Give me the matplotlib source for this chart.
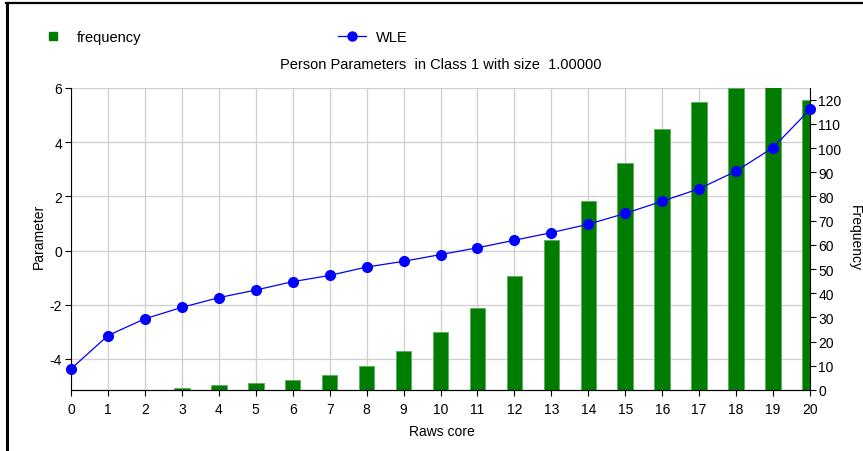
import numpy as np
import matplotlib
matplotlib.use('Agg')
import matplotlib.pyplot as plt
from matplotlib.lines import Line2D

plt.rcParams['font.family'] = ['Liberation Sans', 'DejaVu Sans']
plt.rcParams['font.size'] = 10
plt.rcParams['axes.unicode_minus'] = False

# data
raw_score = np.arange(0, 21)
frequency = [0, 0, 0, 1, 2, 3, 4, 6, 10, 16, 24, 34, 47, 62, 78, 94, 108, 119, 125, 126, 120]
wle = [-4.37, -3.14, -2.52, -2.10, -1.74, -1.46, -1.15, -0.92, -0.61, -0.40, -0.15,
       0.10, 0.38, 0.66, 0.97, 1.37, 1.82, 2.28, 2.93, 3.80, 5.21]
param_ticks = [-4, -2, 0, 2, 4, 6]
freq_ticks = list(range(0, 121, 10))

W, H = 863, 452
fig = plt.figure(figsize=(W / 100, H / 100), dpi=100)
pos = [71 / W, 1 - 391 / H, (810 - 71) / W, (391 - 89) / H]

# left axis: parameter + grid (bottom layer)
ax = fig.add_axes(pos)
ax.set_xlim(0, 20)
ax.set_ylim(-5.15, 6)
ax.set_xticks(raw_score)
ax.set_yticks(param_ticks)
ax.grid(True, color='#cfcfcf', linewidth=0.9)
ax.set_axisbelow(True)
ax.spines['top'].set_visible(False)
ax.spines['right'].set_visible(False)
ax.tick_params(axis='y', direction='out', length=4, pad=2.5)
ax.tick_params(axis='x', direction='out', length=4, pad=5)

# right axis: frequency bars
ax2 = ax.twinx()
ax2.bar(raw_score, frequency, width=0.42, color='#007d00', edgecolor='#5cae5c', linewidth=0.6)
ax2.set_ylim(0, 124.8)
ax2.set_yticks(freq_ticks)
ax2.spines['top'].set_visible(False)
ax2.spines['left'].set_visible(False)
ax2.tick_params(axis='y', direction='out', length=4, pad=2)

# top layer: WLE line, same scale as left axis
ax3 = fig.add_axes(pos, sharex=ax, sharey=ax)
ax3.axis('off')
ax3.plot(raw_score, wle, color='#0000ff', linewidth=0.9, marker='o',
         markersize=7, clip_on=False)

# labels
fig.text(440.5 / W, 1 - 65 / H, 'Person Parameters  in Class 1 with size  1.00000',
         ha='center', va='center', fontsize=10.5)
fig.text(39 / W, 1 - 236 / H, 'Parameter', rotation=90, ha='center', va='center')
fig.text(855 / W, 1 - 238 / H, 'Frequency', rotation=270, ha='center', va='center')
fig.text(442 / W, 1 - 432 / H, 'Raws core', ha='center', va='center')

# legend
handles = [
    Line2D([], [], color='#007d00', marker='s', linestyle='none', markersize=5.5),
    Line2D([], [], color='#0000ff', marker='o', linewidth=0.9, markersize=6.5),
]
fig.legend(handles, ['frequency', 'WLE'], ncol=2, frameon=False, fontsize=10.5,
           loc='center left', bbox_to_anchor=(39 / W, 1 - 38 / H),
           borderpad=0, borderaxespad=0, handlelength=1.9, handletextpad=0.7,
           columnspacing=13.5)

# screenshot border (left and top)
fig.add_artist(Line2D([6.5 / W, 6.5 / W], [0, 1 - 3.5 / H], color='black', linewidth=2.2))
fig.add_artist(Line2D([5.5 / W, 1], [1 - 4.3 / H, 1 - 4.3 / H], color='black', linewidth=1.6))

fig.savefig('out.png', dpi=100)
